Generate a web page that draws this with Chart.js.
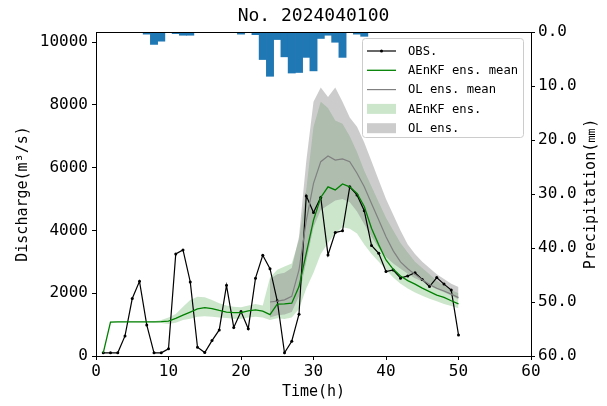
<!DOCTYPE html>
<html><head><meta charset="utf-8">
<script src="https://cdn.jsdelivr.net/npm/chart.js@4.4.1/dist/chart.umd.min.js"></script>
<style>html,body{margin:0;padding:0;background:#fff;}#wrap{width:607px;height:406px;}</style>
</head><body><div id="wrap"><canvas id="c" width="607" height="406"></canvas></div>
<script>
const chartTitle = 'No. 2024040100';
const hours = [1,2,3,4,5,6,7,8,9,10,11,12,13,14,15,16,17,18,19,20,21,22,23,24,25,26,27,28,29,30,31,32,33,34,35,36,37,38,39,40,41,42,43,44,45,46,47,48,49,50];
const precip = [0,0,0,0,0,0,0.4,2.3,1.7,0, 0.3,0.6,0.6,0,0,0,0,0,0,0.4, 0,0.5,5.1,8.2,1.4,4.6,7.6,7.5,4.7,7.2, 1.2,0.6,1.9,4.7,0,0.4,0.8,0,0,0, 0,0,0,0,0,0,0,0,0,0];
const obs = [100,100,100,640,1830,2380,990,100,100,230, 3250,3380,2360,280,110,490,830,2250,910,1420, 870,2480,3210,2780,1760,100,470,1330,5100,4570, 5050,3220,3930,3990,5390,5130,4630,3520,3270,2690, 2740,2480,2550,2650,2440,2210,2500,2290,2100,670];
const aenkfMean = [100,1080,1085,1085,1085,1085,1085,1090,1095,1110, 1200,1300,1400,1500,1540,1510,1450,1400,1380,1380, 1440,1470,1430,1320,1650,1660,1680,2210,3270,4330, 5050,5390,5290,5480,5390,5180,4760,4070,3540,3060, 2760,2550,2400,2290,2160,2050,1940,1870,1760,1660];
const aenkfLow = [100,1070,1075,1075,1075,1075,1075,1070,1050,1020, 1060,1150,1190,1250,1270,1250,1230,1210,1190,1190, 1230,1250,1230,1150,1200,1180,1230,1500,2150,2650, 3250,3600,3900,4100,4050,3900,3550,3250,3000,2750, 2500,2300,2150,2020,1920,1820,1740,1660,1590,1520];
const aenkfHigh = [100,1090,1095,1095,1095,1095,1095,1110,1150,1230, 1340,1570,1780,1890,1870,1780,1680,1610,1570,1550, 1610,1660,1610,2500,2750,2850,2950,3700,5300,7300, 8100,7900,7500,7400,7000,6500,5900,5400,4900,4400, 4000,3600,3300,3000,2800,2600,2400,2250,2100,2000];
const olHours = [24,25,26,27,28,29,30,31,32,33,34,35,36,37,38,39,40,41,42,43,44,45,46,47,48,49,50];
const olMean = [1720,1750,1790,1900,2740,4300,5500,6190,6370,6240,6280,6190,5820,5390,4860,4330,3800,3350,3000,2780,2600,2430,2280,2160,2070,1970,1860];
const olHigh = [2450,2600,2650,2800,3800,6200,8100,8550,8250,8550,8100,7600,7300,6800,6200,5600,5000,4500,4000,3550,3250,3000,2800,2600,2450,2300,2200];
const olLow = [1230,1300,1320,1400,1900,3000,4100,4650,4800,4950,5000,4900,4600,4200,3800,3450,3150,2950,2780,2620,2480,2370,2240,2130,2030,1930,1800];
const xTicks = [0,10,20,30,40,50,60];
const qTicks = [0,2000,4000,6000,8000,10000];
const pTicks = [0,10,20,30,40,50,60];
const xTitle = 'Time(h)';
const yTitle = 'Discharge(m³/s)';
const y2Title = 'Precipitation(㎜)';

const pts = (xs, ys) => xs.map((x, i) => ({x: x, y: ys[i]}));
const FONT = "'DejaVu Sans Mono', 'Liberation Mono', monospace";
Chart.defaults.font.family = FONT;
Chart.defaults.color = '#000';

const GREEN = 'rgb(0,128,0)';
const GREEN_FILL = 'rgba(0,128,0,0.2)';
const GRAY = 'rgb(128,128,128)';
const GRAY_FILL = 'rgba(128,128,128,0.4)';

const decor = {
  id: 'decor',
  afterDraw(chart) {
    const ctx = chart.ctx, a = chart.chartArea;
    ctx.save();
    ctx.strokeStyle = '#000'; ctx.lineWidth = 1;
    ctx.beginPath(); ctx.moveTo(a.left, a.top + 0.5); ctx.lineTo(a.right, a.top + 0.5); ctx.stroke();
    const cx = (a.left + a.right) / 2, cy = (a.top + a.bottom) / 2;
    ctx.fillStyle = '#000';
    ctx.textAlign = 'center'; ctx.textBaseline = 'middle';
    ctx.font = '18px ' + FONT;
    ctx.fillText(chartTitle, cx, 16);
    ctx.font = '15px ' + FONT;
    ctx.fillText(xTitle, cx, 392);
    ctx.save(); ctx.translate(23, cy); ctx.rotate(-Math.PI / 2); ctx.fillText(yTitle, 0, 0); ctx.restore();
    ctx.save(); ctx.translate(591, cy); ctx.rotate(-Math.PI / 2); ctx.fillText(y2Title, 0, 0); ctx.restore();
    const items = chart.data.datasets.filter(d => d.legendRank).sort((p, q) => p.legendRank - q.legendRank);
    const x0 = a.right - 169, y0 = a.top + 6, w = 161, h = 99;
    ctx.fillStyle = 'rgba(255,255,255,0.8)';
    ctx.strokeStyle = 'rgb(204,204,204)';
    ctx.beginPath();
    ctx.roundRect(x0 + 0.5, y0 + 0.5, w, h, 3);
    ctx.fill(); ctx.stroke();
    ctx.font = '12.2px ' + FONT;
    ctx.textAlign = 'left'; ctx.textBaseline = 'middle';
    items.forEach((d, i) => {
      const ry = y0 + 13 + i * 19.3;
      const lx0 = x0 + 5, lx1 = x0 + 34;
      if (d.legendKind === 'line') {
        ctx.strokeStyle = d.borderColor; ctx.lineWidth = d.borderWidth;
        ctx.beginPath(); ctx.moveTo(lx0, ry); ctx.lineTo(lx1, ry); ctx.stroke();
        if (d.pointRadius > 0) {
          ctx.fillStyle = d.pointBackgroundColor;
          ctx.beginPath(); ctx.arc((lx0 + lx1) / 2, ry, d.pointRadius, 0, Math.PI * 2); ctx.fill();
        }
      } else {
        ctx.fillStyle = d.backgroundColor;
        ctx.fillRect(lx0, ry - 5, lx1 - lx0, 10);
      }
      ctx.fillStyle = '#000';
      ctx.fillText(d.label, x0 + 46, ry + 0.5);
    });
    ctx.restore();
  }
};

new Chart(document.getElementById('c'), {
  type: 'line',
  data: {
    datasets: [
      {label: 'AEnKF ens.', legendKind: 'patch', legendRank: 4, data: pts(hours, aenkfHigh), fill: '+1', backgroundColor: GREEN_FILL, borderWidth: 0, pointRadius: 0, order: 10, yAxisID: 'y'},
      {label: 'aenkf-low', data: pts(hours, aenkfLow), fill: false, borderWidth: 0, pointRadius: 0, order: 10, yAxisID: 'y'},
      {label: 'OL ens.', legendKind: 'patch', legendRank: 5, data: pts(olHours, olHigh), fill: '+1', backgroundColor: GRAY_FILL, borderWidth: 0, pointRadius: 0, order: 9, yAxisID: 'y'},
      {label: 'ol-low', data: pts(olHours, olLow), fill: false, borderWidth: 0, pointRadius: 0, order: 9, yAxisID: 'y'},
      {label: 'OBS.', legendKind: 'line', legendRank: 1, data: pts(hours, obs), borderColor: '#000', borderWidth: 1.2, pointRadius: 1.5, pointBackgroundColor: '#000', pointBorderWidth: 0, fill: false, order: 3, yAxisID: 'y'},
      {label: 'AEnKF ens. mean', legendKind: 'line', legendRank: 2, data: pts(hours, aenkfMean), borderColor: GREEN, borderWidth: 1.3, pointRadius: 0, fill: false, order: 2, yAxisID: 'y'},
      {label: 'OL ens. mean', legendKind: 'line', legendRank: 3, data: pts(olHours, olMean), borderColor: GRAY, borderWidth: 1.2, pointRadius: 0, fill: false, order: 1, yAxisID: 'y'},
      {type: 'bar', label: 'precip', data: pts(hours, precip), backgroundColor: '#1f77b4', borderWidth: 0, barPercentage: 1, categoryPercentage: 1, order: 0, xAxisID: 'x', yAxisID: 'y2'}
    ]
  },
  options: {
    responsive: false,
    animation: false,
    devicePixelRatio: 1,
    layout: {padding: {top: 32, left: 0, right: 0, bottom: 0}},
    elements: {line: {tension: 0}},
    plugins: {legend: {display: false}, tooltip: {enabled: false}, title: {display: false}},
    scales: {
      x: {
        type: 'linear', position: 'bottom', min: 0, max: 60, offset: false,
        afterFit: s => { s.height = 50; },
        afterBuildTicks: s => { s.ticks = xTicks.map(v => ({value: v})); },
        ticks: {font: {size: 16}, padding: 2, maxRotation: 0, callback: v => String(v)},
        grid: {display: true, drawOnChartArea: false, drawTicks: true, tickLength: 4, color: '#000', offset: false},
        border: {display: true, color: '#000', width: 1}
      },
      y: {
        type: 'linear', position: 'left', min: 0, max: 10320,
        afterFit: s => { s.width = 96; },
        afterBuildTicks: s => { s.ticks = qTicks.map(v => ({value: v})); },
        ticks: {font: {size: 16}, padding: 4, callback: v => String(v)},
        grid: {display: true, drawOnChartArea: false, drawTicks: true, tickLength: 4, color: '#000'},
        border: {display: true, color: '#000', width: 1}
      },
      y2: {
        type: 'linear', position: 'right', min: 0, max: 60, reverse: true,
        afterFit: s => { s.width = 76; },
        afterBuildTicks: s => { s.ticks = pTicks.map(v => ({value: v})); },
        ticks: {font: {size: 16}, padding: 3, callback: v => Number(v).toFixed(1)},
        grid: {display: true, drawOnChartArea: false, drawTicks: true, tickLength: 4, color: '#000'},
        border: {display: true, color: '#000', width: 1}
      }
    }
  },
  plugins: [decor]
});
</script></body></html>
